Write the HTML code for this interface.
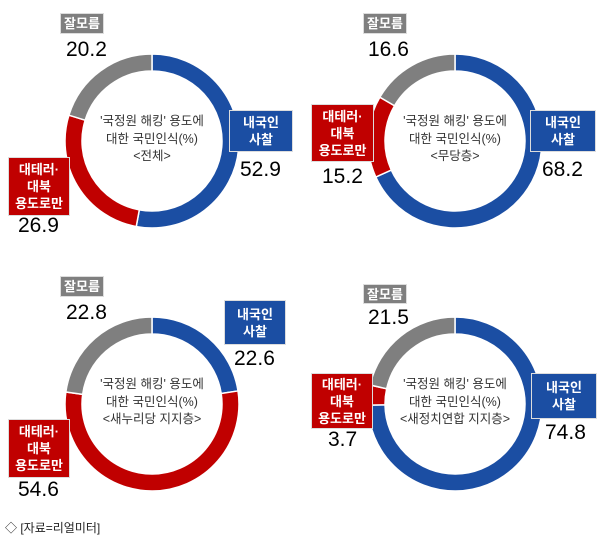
<!DOCTYPE html>
<html><head><meta charset="utf-8"><style>
body{margin:0;background:#fff;width:606px;height:545px;overflow:hidden;position:relative;font-family:"Liberation Sans","Noto Sans CJK KR",sans-serif}
.b{position:absolute;color:#fff;font-weight:bold;font-size:13px;line-height:17px;text-align:center;display:flex;align-items:center;justify-content:center;box-sizing:border-box;border:1px solid #ddd}
.g{background:#7f7f7f}.bl{background:#1b4ea3}.r{background:#c00000}
.n{position:absolute;font-size:21px;color:#000;line-height:20px}
.c{position:absolute;width:140px;text-align:center;font-size:12.5px;line-height:17.5px;color:#333}
svg{position:absolute;left:0;top:0}
</style></head><body>
<svg width="606" height="545" id="s"></svg>
<div class="b g" style="left:60px;top:13px;width:44px;height:21px">잘모름</div>
<div class="n" style="left:66px;top:40px">20.2</div>
<div class="b bl" style="left:229px;top:110px;width:64px;height:42px">내국인<br>사찰</div>
<div class="n" style="left:240px;top:160px">52.9</div>
<div class="b r" style="left:8px;top:157px;width:62px;height:59px">대테러·<br>대북<br>용도로만</div>
<div class="n" style="left:18px;top:216px">26.9</div>
<div class="c" style="left:82px;top:113px">'국정원 해킹' 용도에<br>대한 국민인식(%)<br>&lt;전체&gt;</div>

<div class="b g" style="left:363px;top:13px;width:44px;height:21px">잘모름</div>
<div class="n" style="left:368px;top:40px">16.6</div>
<div class="b bl" style="left:530px;top:110px;width:66px;height:42px">내국인<br>사찰</div>
<div class="n" style="left:542px;top:160px">68.2</div>
<div class="b r" style="left:311px;top:104px;width:63px;height:58px">대테러·<br>대북<br>용도로만</div>
<div class="n" style="left:322px;top:167px">15.2</div>
<div class="c" style="left:385px;top:113px">'국정원 해킹' 용도에<br>대한 국민인식(%)<br>&lt;무당층&gt;</div>

<div class="b g" style="left:60px;top:276px;width:44px;height:21px">잘모름</div>
<div class="n" style="left:66px;top:303px">22.8</div>
<div class="b bl" style="left:224px;top:300px;width:62px;height:45px">내국인<br>사찰</div>
<div class="n" style="left:234px;top:349px">22.6</div>
<div class="b r" style="left:8px;top:419px;width:62px;height:59px">대테러·<br>대북<br>용도로만</div>
<div class="n" style="left:18px;top:480px">54.6</div>
<div class="c" style="left:82px;top:376px">'국정원 해킹' 용도에<br>대한 국민인식(%)<br>&lt;새누리당 지지층&gt;</div>

<div class="b g" style="left:363px;top:284px;width:44px;height:20px">잘모름</div>
<div class="n" style="left:368px;top:308px">21.5</div>
<div class="b bl" style="left:531px;top:373px;width:66px;height:46px">내국인<br>사찰</div>
<div class="n" style="left:545px;top:423px">74.8</div>
<div class="b r" style="left:311px;top:373px;width:62px;height:56px">대테러·<br>대북<br>용도로만</div>
<div class="n" style="left:328px;top:430px">3.7</div>
<div class="c" style="left:385px;top:376px">'국정원 해킹' 용도에<br>대한 국민인식(%)<br>&lt;새정치연합 지지층&gt;</div>

<div style="position:absolute;left:5px;top:519px;font-size:12px;color:#222">◇ [자료=리얼미터]</div>
<script>
var s=document.getElementById('s'),ns='http://www.w3.org/2000/svg';
var charts=[[152,141,[52.9,26.9,20.2]],[455,141,[68.2,15.2,16.6]],[152,404,[22.6,54.6,22.8]],[455,404,[74.8,3.7,21.5]]];
var cols=['#1b4ea3','#c00000','#7f7f7f'];
var Ro=87,Ri=70;
function pt(cx,cy,r,a){return [cx+r*Math.sin(a),cy-r*Math.cos(a)];}
charts.forEach(function(c){
 var tot=c[2].reduce(function(a,b){return a+b},0),a0=0;
 c[2].forEach(function(v,i){
  var a1=a0+v/tot*2*Math.PI,l=(a1-a0)>Math.PI?1:0;
  var p1=pt(c[0],c[1],Ro,a0),p2=pt(c[0],c[1],Ro,a1),p3=pt(c[0],c[1],Ri,a1),p4=pt(c[0],c[1],Ri,a0);
  var p=document.createElementNS(ns,'path');
  p.setAttribute('d','M'+p1+'A'+Ro+','+Ro+' 0 '+l+' 1 '+p2+'L'+p3+'A'+Ri+','+Ri+' 0 '+l+' 0 '+p4+'Z');
  p.setAttribute('fill',cols[i]);p.setAttribute('stroke','#fff');p.setAttribute('stroke-width','1.5');
  s.appendChild(p);a0=a1;
 });
});
</script>
</body></html>
